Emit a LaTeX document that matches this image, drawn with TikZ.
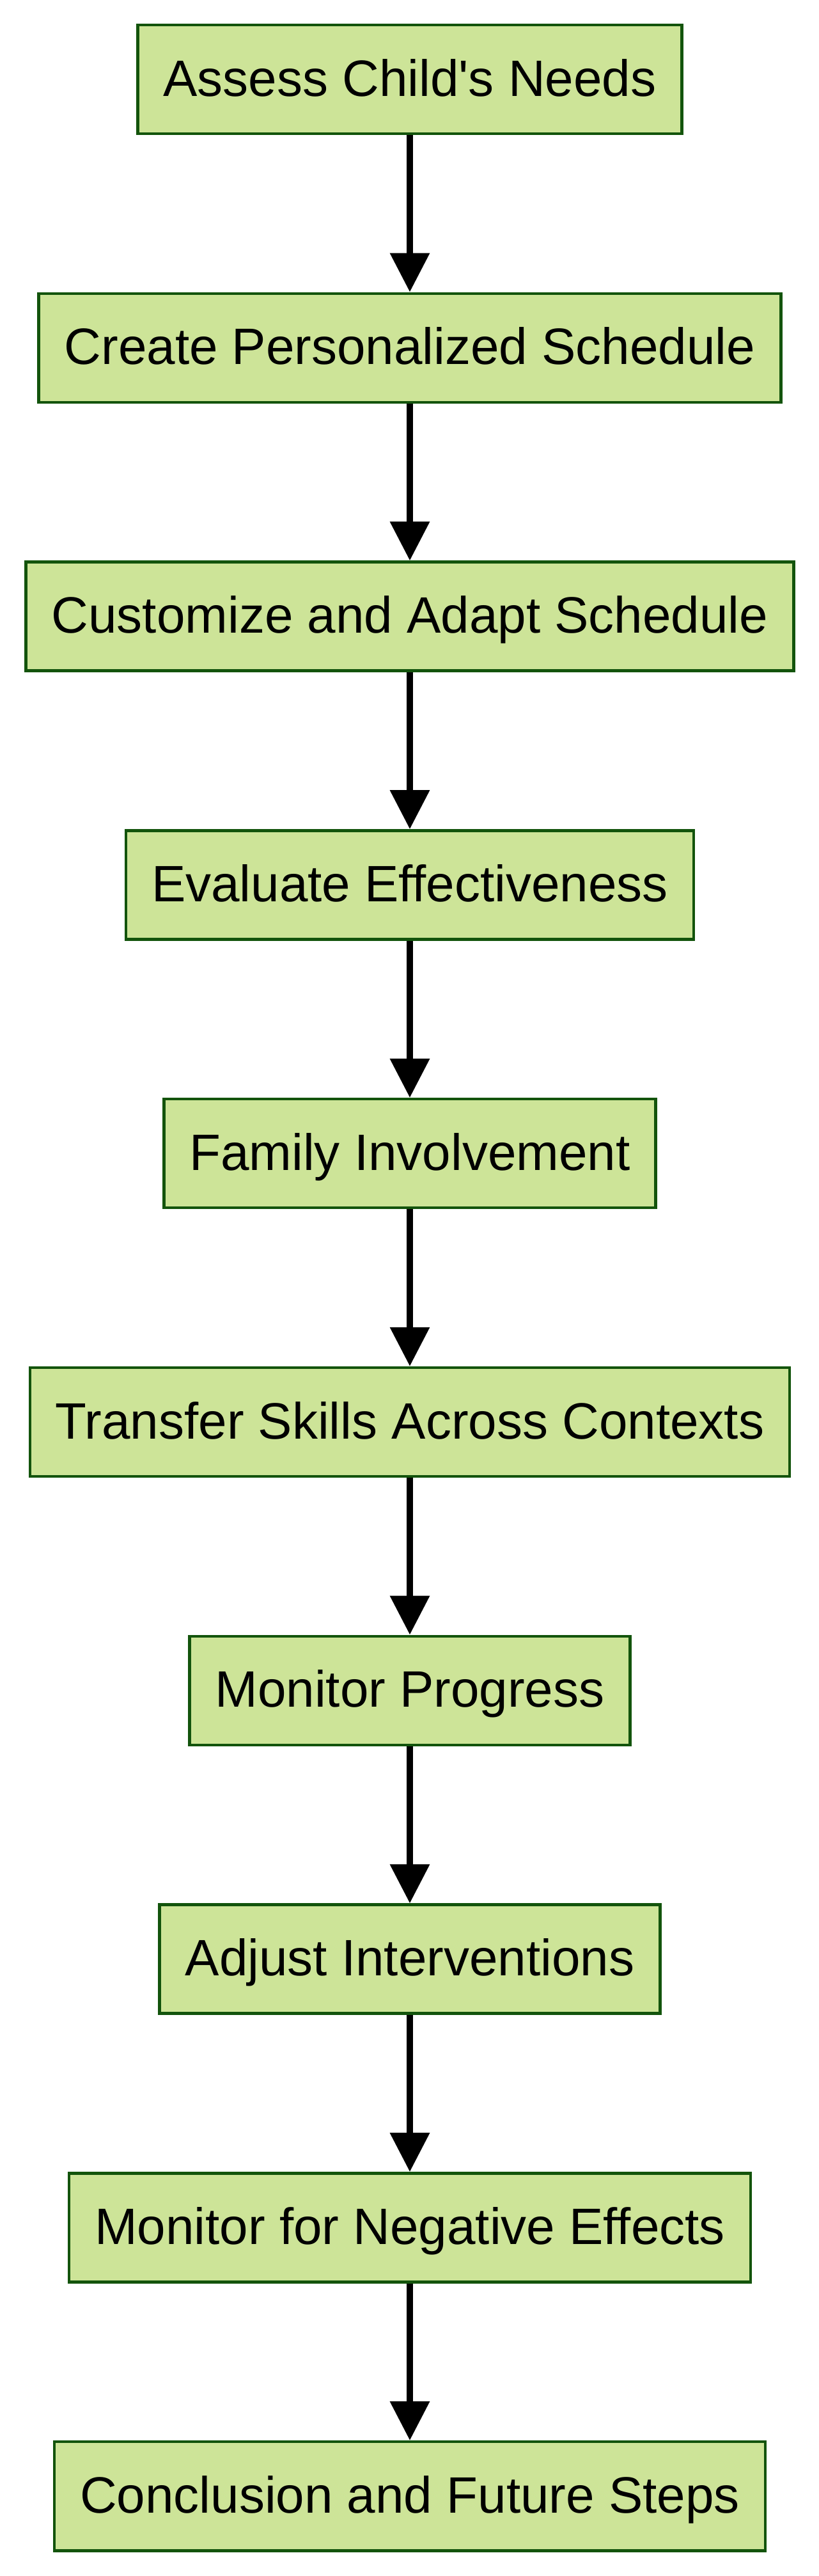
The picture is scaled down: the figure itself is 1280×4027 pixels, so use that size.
\documentclass[tikz,border=0pt]{standalone}
\usepackage{fontspec}
\setmainfont{Liberation Sans}
\usetikzlibrary{arrows.meta}
\definecolor{boxfill}{HTML}{CDE498}
\definecolor{boxline}{HTML}{13540C}
\begin{document}
\begin{tikzpicture}[x=1pt,y=1pt,
  stepbox/.style={draw=boxline, fill=boxfill, line width=4.5pt, rectangle,
    minimum height=170pt, inner xsep=40pt, inner ysep=0pt,
    text height=57pt, text depth=5pt,
    font=\fontsize{80}{96}\selectfont},
  flow/.style={draw=black, line width=10pt, -{Triangle[width=60pt,length=61pt]}}]
\useasboundingbox (0,0) rectangle (1280,-4027);
\node[stepbox] (n1)  at (641,-124)    {Assess Child\textquotesingle s Needs};
\node[stepbox] (n2)  at (641,-543.8)  {Create Personalized Schedule};
\node[stepbox] (n3)  at (641,-963.6)  {Customize and Adapt Schedule};
\node[stepbox] (n4)  at (641,-1383.4) {Evaluate Effectiveness};
\node[stepbox] (n5)  at (641,-1803.2) {Family Involvement};
\node[stepbox] (n6)  at (641,-2223)   {Transfer Skills Across Contexts};
\node[stepbox] (n7)  at (641,-2642.8) {Monitor Progress};
\node[stepbox] (n8)  at (641,-3062.6) {Adjust Interventions};
\node[stepbox] (n9)  at (641,-3482.4) {Monitor for Negative Effects};
\node[stepbox] (n10) at (641,-3902.2) {Conclusion and Future Steps};
\foreach \a/\b in {n1/n2,n2/n3,n3/n4,n4/n5,n5/n6,n6/n7,n7/n8,n8/n9,n9/n10}
  \draw[flow] (\a) -- (\b);
\end{tikzpicture}
\end{document}
